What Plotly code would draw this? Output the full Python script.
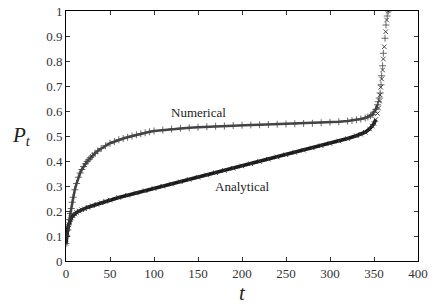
import plotly.graph_objects as go

# Numerical solution (plus markers)
t_num = [0, 1, 2, 3, 4, 5, 6, 7, 8, 10, 12, 14, 16, 18, 20, 22, 24, 26, 28, 30, 33, 36, 40,
         45, 50, 55, 60, 65, 70, 75, 80, 85, 90, 95, 100, 110, 120, 130, 140, 150, 160, 170,
         180, 190, 200, 210, 220, 230, 240, 250, 260, 270, 280, 290, 300, 310, 320, 325, 330,
         335, 340, 343, 346, 348, 350, 352, 354, 355, 356, 357, 358, 358.7, 359.8, 360.6,
         362.5, 363.6, 365, 366.3]
p_num = [0.07, 0.1, 0.125, 0.145, 0.165, 0.19, 0.21, 0.235, 0.255, 0.285, 0.31, 0.335, 0.352,
         0.366, 0.378, 0.389, 0.398, 0.406, 0.414, 0.421, 0.431, 0.44, 0.45, 0.461, 0.471,
         0.478, 0.485, 0.49, 0.495, 0.5, 0.505, 0.509, 0.513, 0.517, 0.52, 0.524, 0.528,
         0.531, 0.533, 0.535, 0.537, 0.539, 0.54, 0.542, 0.543, 0.544, 0.545, 0.546, 0.547,
         0.548, 0.549, 0.55, 0.551, 0.553, 0.555, 0.557, 0.56, 0.562, 0.565, 0.568, 0.572,
         0.576, 0.581, 0.586, 0.595, 0.607, 0.625, 0.637, 0.652, 0.672, 0.705, 0.741, 0.781,
         0.831, 0.891, 0.944, 0.98, 1.0]

# Analytical solution (x markers)
t_ana = [0, 1, 2, 3, 4, 5, 6, 8, 10, 12, 15, 18, 21, 25, 30, 35, 40, 45, 50, 60, 70, 80, 90,
         100, 110, 120, 130, 140, 150, 160, 170, 180, 190, 200, 210, 220, 230, 240, 250, 260,
         270, 280, 290, 300, 310, 320, 330, 335, 340, 345, 348, 350, 352, 354, 355.2, 356.3,
         357, 357.6, 358.7, 359.8, 360.6, 361.7, 363.3, 364.4, 366.3]
p_ana = [0.07, 0.11, 0.13, 0.145, 0.157, 0.165, 0.172, 0.181, 0.188, 0.194, 0.2, 0.205, 0.209,
         0.215, 0.221, 0.227, 0.233, 0.239, 0.244, 0.254, 0.263, 0.272, 0.281, 0.29, 0.299,
         0.308, 0.317, 0.326, 0.335, 0.344, 0.353, 0.362, 0.371, 0.38, 0.389, 0.398, 0.407,
         0.416, 0.425, 0.434, 0.443, 0.452, 0.461, 0.47, 0.48, 0.49, 0.501, 0.507, 0.515,
         0.528, 0.54, 0.55, 0.566, 0.59, 0.612, 0.64, 0.664, 0.695, 0.728, 0.764, 0.808,
         0.857, 0.917, 0.964, 1.0]

x_ticks = [0, 50, 100, 150, 200, 250, 300, 350, 400]
y_ticks = [0, 0.1, 0.2, 0.3, 0.4, 0.5, 0.6, 0.7, 0.8, 0.9, 1]
y_tick_text = ["0", "0.1", "0.2", "0.3", "0.4", "0.5", "0.6", "0.7", "0.8", "0.9", "1"]

FONT = "Liberation Serif, Times New Roman, serif"
n_line_num = t_num.index(354) + 1
n_line_ana = t_ana.index(352) + 1

fig = go.Figure()
fig.add_trace(go.Scatter(x=t_num[:n_line_num], y=p_num[:n_line_num], mode="lines",
                         line=dict(color="#444444", width=2.5), showlegend=False, hoverinfo="skip"))
fig.add_trace(go.Scatter(x=t_ana[:n_line_ana], y=p_ana[:n_line_ana], mode="lines",
                         line=dict(color="#1a1a1a", width=3.5), showlegend=False, hoverinfo="skip"))
fig.add_trace(go.Scatter(x=t_num, y=p_num, mode="markers", name="Numerical",
                         marker=dict(symbol="cross-thin", size=5,
                                     line=dict(color="#444444", width=0.8)),
                         showlegend=False))
fig.add_trace(go.Scatter(x=t_ana, y=p_ana, mode="markers", name="Analytical",
                         marker=dict(symbol="x-thin", size=4.5,
                                     line=dict(color="#333333", width=0.9)),
                         showlegend=False))

fig.add_annotation(x=150, y=0.596, text="Numerical", showarrow=False,
                   font=dict(family=FONT, size=13, color="#222"))
fig.add_annotation(x=201, y=0.298, text="Analytical", showarrow=False,
                   font=dict(family=FONT, size=13, color="#222"))

fig.update_xaxes(range=[0, 400], tickvals=x_ticks, ticks="inside", ticklen=4,
                 tickcolor="#333", showline=True, linecolor="black", linewidth=1,
                 mirror="ticks", showgrid=False, zeroline=False, automargin=False,
                 tickfont=dict(family=FONT, size=13, color="#333"),
                 title=dict(text="<i>t</i>", font=dict(family=FONT, size=21, color="#222"),
                            standoff=2))
fig.update_yaxes(range=[0, 1], tickvals=y_ticks, ticktext=y_tick_text, ticks="inside",
                 ticklen=4, tickcolor="#333", showline=True, linecolor="black", linewidth=1,
                 mirror="ticks", showgrid=False, zeroline=False, automargin=False,
                 tickfont=dict(family=FONT, size=13, color="#333"))

fig.add_annotation(x=-0.159, y=0.5, xref="paper", yref="paper", showarrow=False,
                   xanchor="left", text="<i>P<sub>t</sub></i>",
                   font=dict(family=FONT, size=21, color="#222"))

fig.update_layout(width=436, height=306, margin=dict(l=66, r=18, t=11, b=45),
                  plot_bgcolor="white", paper_bgcolor="white")

fig.write_html("out.html", config={"displayModeBar": False},
               post_script="document.body.style.margin='0';document.body.style.overflow='hidden';")
